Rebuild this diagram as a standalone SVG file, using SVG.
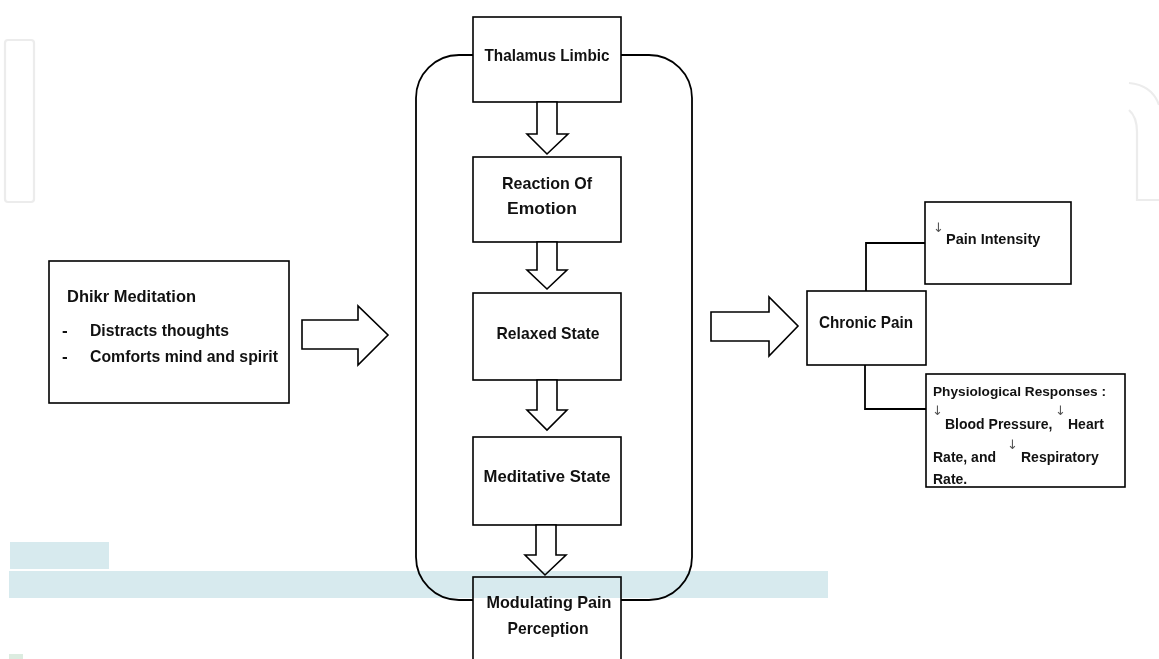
<svg xmlns="http://www.w3.org/2000/svg" width="1159" height="659" viewBox="0 0 1159 659">
<style>
.box{fill:#fff;stroke:#000;stroke-width:1.6}
.ln{fill:none;stroke:#000;stroke-width:1.8}
.blk{fill:#fff;stroke:#000;stroke-width:1.6;stroke-linejoin:miter}
.t{font-family:"Liberation Sans",Arial,sans-serif;font-weight:bold;font-size:17px;fill:#111}
.p{font-size:14.5px}
.r{font-size:14px}
.q{font-size:13.5px}
.c{text-anchor:middle}
.ar{font-family:"DejaVu Sans",sans-serif;font-weight:normal;font-size:13px;fill:#555}
.wm{fill:none;stroke:#ececec;stroke-width:2.2}
.band{mix-blend-mode:multiply}
</style>
<rect width="1159" height="659" fill="#fff"/>
<g id="watermark">
<rect class="wm" x="5" y="40" width="29" height="162" rx="3"/>
<path class="wm" d="M1129 83 Q1152 85 1159 105"/>
<path class="wm" d="M1129 110 Q1137 117 1137 132 V200 H1159"/>
</g>
<g id="connectors">
<rect class="ln" x="416" y="55" width="276" height="545" rx="43"/>
<path class="ln" d="M866 291 V243 H925"/>
<path class="ln" d="M865 365 V409 H926"/>
</g>
<g id="thalamus"><rect class="box" x="473" y="17" width="148" height="85"/><text class="t c" x="547" y="61" textLength="125" lengthAdjust="spacingAndGlyphs">Thalamus Limbic</text></g>
<g id="reaction"><rect class="box" x="473" y="157" width="148" height="85"/><text class="t c" x="547" y="189" textLength="90" lengthAdjust="spacingAndGlyphs">Reaction Of</text><text class="t c" x="542" y="214" textLength="70" lengthAdjust="spacingAndGlyphs">Emotion</text></g>
<g id="relaxed"><rect class="box" x="473" y="293" width="148" height="87"/><text class="t c" x="548" y="339" textLength="103" lengthAdjust="spacingAndGlyphs">Relaxed State</text></g>
<g id="meditative"><rect class="box" x="473" y="437" width="148" height="88"/><text class="t c" x="547" y="482" textLength="127" lengthAdjust="spacingAndGlyphs">Meditative State</text></g>
<g id="modulating"><rect class="box" x="473" y="577" width="148" height="92"/><text class="t c" x="549" y="608" textLength="125" lengthAdjust="spacingAndGlyphs">Modulating Pain</text><text class="t c" x="548" y="634" textLength="81" lengthAdjust="spacingAndGlyphs">Perception</text></g>
<g id="dhikr"><rect class="box" x="49" y="261" width="240" height="142"/>
<text class="t" x="67" y="302" textLength="129" lengthAdjust="spacingAndGlyphs">Dhikr Meditation</text>
<text class="t" x="62" y="336">-</text><text class="t" x="90" y="336" textLength="139" lengthAdjust="spacingAndGlyphs">Distracts thoughts</text>
<text class="t" x="62" y="362">-</text><text class="t" x="90" y="362" textLength="188" lengthAdjust="spacingAndGlyphs">Comforts mind and spirit</text></g>
<g id="chronic"><rect class="box" x="807" y="291" width="119" height="74"/><text class="t c" x="866" y="328" textLength="94" lengthAdjust="spacingAndGlyphs">Chronic Pain</text></g>
<g id="intensity"><rect class="box" x="925" y="202" width="146" height="82"/>
<text class="t p"><tspan class="ar" x="933" y="232">↓</tspan><tspan x="946" y="244">Pain Intensity</tspan></text></g>
<g id="physio"><rect class="box" x="926" y="374" width="199" height="113"/>
<text class="t q" x="933" y="396" textLength="173" lengthAdjust="spacingAndGlyphs">Physiological Responses :</text>
<text class="t r"><tspan class="ar" x="932" y="415">↓</tspan><tspan x="945" y="429">Blood Pressure,</tspan><tspan class="ar" x="1055" y="415">↓</tspan><tspan x="1068" y="429">Heart</tspan></text>
<text class="t r"><tspan x="933" y="462">Rate, and</tspan><tspan class="ar" x="1007" y="449">↓</tspan><tspan x="1021" y="462">Respiratory</tspan></text>
<text class="t r" x="933" y="484">Rate.</text></g>
<g id="block-arrows">
<polygon class="blk" points="302,320 358,320 358,306 388,335 358,365 358,349 302,349"/>
<polygon class="blk" points="711,312 769,312 769,297 798,326 769,356 769,341 711,341"/>
<polygon class="blk" points="537,102 557,102 557,134 568,134 547,154 527,134 537,134"/>
<polygon class="blk" points="537,242 557,242 557,270 567,270 547,289 527,270 537,270"/>
<polygon class="blk" points="537,380 557,380 557,410 567,410 547,430 527,410 537,410"/>
<polygon class="blk" points="536,525 556,525 556,555 566,555 545,575 525,555 536,555"/>
</g>
<g id="bands" class="band">
<rect x="10" y="542" width="99" height="27" fill="#d7eaee"/>
<rect x="9" y="571" width="819" height="27" fill="#d7eaee"/>
<rect x="9" y="654" width="14" height="5" fill="#dcece0"/>
</g>
</svg>
